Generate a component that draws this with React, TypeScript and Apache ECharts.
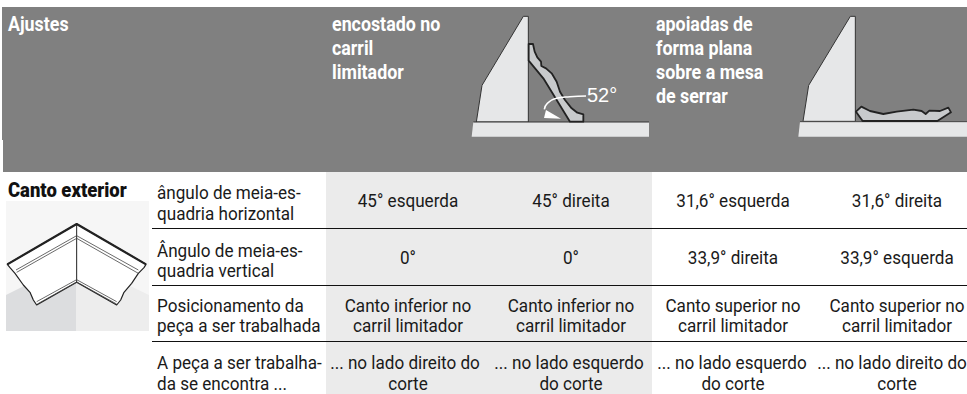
import React, { useEffect, useRef } from "react";
import * as echarts from "echarts";

const headerTitle = "Ajustes";
const headerA = ["encostado no", "carril", "limitador"];
const headerB = ["apoiadas de", "forma plana", "sobre a mesa", "de serrar"];
const angleLabel = "52°";
const sectionTitle = "Canto exterior";
const rowLabels = [
  ["ângulo de meia-es-", "quadria horizontal"],
  ["Ângulo de meia-es-", "quadria vertical"],
  ["Posicionamento da", "peça a ser trabalhada"],
  ["A peça a ser trabalha-", "da se encontra ..."],
];
const rowValues = [
  [["45° esquerda"], ["45° direita"], ["31,6° esquerda"], ["31,6° direita"]],
  [["0°"], ["0°"], ["33,9° direita"], ["33,9° esquerda"]],
  [
    ["Canto inferior no", "carril limitador"],
    ["Canto inferior no", "carril limitador"],
    ["Canto superior no", "carril limitador"],
    ["Canto superior no", "carril limitador"],
  ],
  [
    ["... no lado direito do", "corte"],
    ["... no lado esquerdo", "do corte"],
    ["... no lado esquerdo", "do corte"],
    ["... no lado direito do", "corte"],
  ],
];

const BODY_FONT = "Roboto";
const colX = [408, 571, 733, 897];
const rowY = [[200], [257], [305, 325], [362, 383]];
const labelY = [[192, 213], [250, 270], [305, 325], [362, 383]];
const lastRowShift = [-3, -2, -1, -5];

const map = (ox: number, oy: number, pts: number[][]) => pts.map(([x, y]) => [ox + x / 3, oy + y / 3]);

function poly(points: number[][], fill: string, stroke: string, lineWidth: number, smooth = 0) {
  return { type: "polygon", shape: { points, smooth }, style: { fill, stroke, lineWidth, lineJoin: "round" } };
}
function line(points: number[][], stroke: string, lineWidth: number, smooth = 0) {
  return { type: "polyline", shape: { points, smooth }, style: { fill: "none", stroke, lineWidth, lineJoin: "round" } };
}
function head(text: string, x: number, y: number) {
  return {
    type: "text", x, y, scaleX: 0.87,
    style: { text, fill: "#ffffff", font: `700 20.5px ${BODY_FONT}`, textAlign: "left", textVerticalAlign: "middle" },
  };
}
function body(text: string, x: number, y: number, align: string) {
  return {
    type: "text", x, y, scaleX: 0.9,
    style: { text, fill: "#1a1a1a", font: `400 19px ${BODY_FONT}`, textAlign: align, textVerticalAlign: "middle" },
  };
}

function buildGraphics() {
  const els: any[] = [];
  els.push({ type: "rect", shape: { x: 2, y: 7, width: 965, height: 133 }, style: { fill: "#808080" } });
  els.push({ type: "rect", shape: { x: 3, y: 140, width: 964, height: 32 }, style: { fill: "#808080" } });
  els.push({ type: "rect", shape: { x: 326, y: 172, width: 326, height: 222 }, style: { fill: "#ebebeb" } });

  // wedge + plate A
  const z6 = (p: number[][]) => map(460, 10, p);
  els.push(poly(z6([[190, 19], [205, 19], [205, 336], [49, 336], [66, 226]]), "#e6e7e8", "#333", 1));
  els.push(poly(z6([[40, 336], [567, 336], [567, 380], [35, 380]]), "#e6e7e8", "none", 0));
  els.push(line(z6([[40, 336], [567, 336]]), "#333", 1));
  els.push(poly(z6([[206, 102], [219, 102], [224, 125], [232, 142], [243, 155], [244, 168], [258, 175], [275, 190], [290, 215], [300, 245], [315, 270], [335, 295], [352, 308], [370, 313], [370, 335], [330, 335], [290, 270], [250, 205], [206, 152]]), "#c8cacc", "#222", 1.8));
  els.push(line(z6([[378, 258], [330, 260], [290, 265], [262, 280], [253, 298]]), "#ffffff", 1.5, 0.5));
  els.push(poly(z6([[258, 300], [303, 326], [252, 324]]), "#ffffff", "none", 0));
  els.push({ type: "text", x: 587, y: 95, style: { text: angleLabel, fill: "#ffffff", font: '20px "Liberation Sans"', textAlign: "left", textVerticalAlign: "middle" } });

  // wedge + plate B
  const z7 = (p: number[][]) => map(790, 10, p);
  els.push(poly(z7([[181, 19], [196, 19], [196, 334], [39, 334], [56, 226]]), "#e6e7e8", "#333", 1));
  els.push(poly(z7([[30, 335], [531, 335], [531, 380], [25, 380]]), "#e6e7e8", "none", 0));
  els.push(line(z7([[30, 335], [531, 335]]), "#444", 1));
  els.push(poly(z7([[198, 305], [214, 290], [240, 303], [280, 312], [320, 305], [370, 299], [395, 303], [407, 312], [418, 302], [450, 303], [475, 293], [483, 307], [442, 333], [218, 333]]), "#c8cacc", "#222", 1.8));

  // photo panel
  els.push({ type: "rect", shape: { x: 6, y: 201, width: 143, height: 130 }, style: { fill: "#f6f6f6" } });
  els.push(poly([[6, 295], [76, 260], [76, 331], [6, 331]], "#dcdddf", "none", 0));
  els.push(poly([[76, 260], [149, 295], [149, 331], [76, 331]], "#ededed", "none", 0));
  const z5 = (p: number[][]) => map(0, 205, p);
  els.push(poly(z5([[230, 57], [438, 178], [432, 188], [415, 205], [395, 235], [372, 262], [362, 285], [350, 300], [230, 232], [110, 300], [100, 285], [90, 262], [70, 240], [45, 205], [30, 188], [22, 178]]), "#ffffff", "#222", 1.2));
  els.push(line(z5([[22, 178], [230, 57], [438, 178]]), "#222", 2.2));
  els.push(line(z5([[230, 57], [230, 232]]), "#222", 1));
  els.push(line(z5([[48, 195], [230, 92], [415, 195]]), "#444", 0.8));
  els.push(line(z5([[50, 202], [230, 100], [415, 205]]), "#444", 0.8));
  els.push(line(z5([[110, 290], [230, 224], [350, 290]]), "#444", 0.8));
  els.push(line(z5([[112, 297], [230, 231], [350, 297]]), "#444", 0.8));

  // rules
  for (const y of [228.5, 285.5, 341.5]) {
    els.push({ type: "line", shape: { x1: 152, y1: y, x2: 967, y2: y }, style: { stroke: "#111", lineWidth: 1 } });
  }

  // text
  els.push(head(headerTitle, 8, 24));
  headerA.forEach((t, i) => els.push(head(t, 332, 24 + i * 24)));
  headerB.forEach((t, i) => els.push(head(t, 656, 24 + i * 24)));
  els.push({ type: "text", x: 8, y: 190, scaleX: 0.9, style: { text: sectionTitle, fill: "#111", font: `900 20.5px ${BODY_FONT}`, textAlign: "left", textVerticalAlign: "middle" } });
  rowLabels.forEach((lines, r) => lines.forEach((t, i) => els.push(body(t, 157, labelY[r][i], "left"))));
  rowValues.forEach((cells, r) =>
    cells.forEach((lines, c) =>
      lines.forEach((t, i) => {
        const shift = r === 3 && i === 0 ? lastRowShift[c] : 0;
        els.push(body(t, colX[c] + shift, rowY[r][i], "center"));
      })
    )
  );
  return els;
}

export default function App() {
  const ref = useRef<HTMLDivElement>(null);
  useEffect(() => {
    document.body.style.margin = "0";
    const chart = echarts.init(ref.current!, undefined, { renderer: "svg" });
    chart.setOption({ animation: false, backgroundColor: "#ffffff", graphic: { elements: buildGraphics() } });
    return () => chart.dispose();
  }, []);
  return <div ref={ref} style={{ width: 967, height: 394 }} />;
}
